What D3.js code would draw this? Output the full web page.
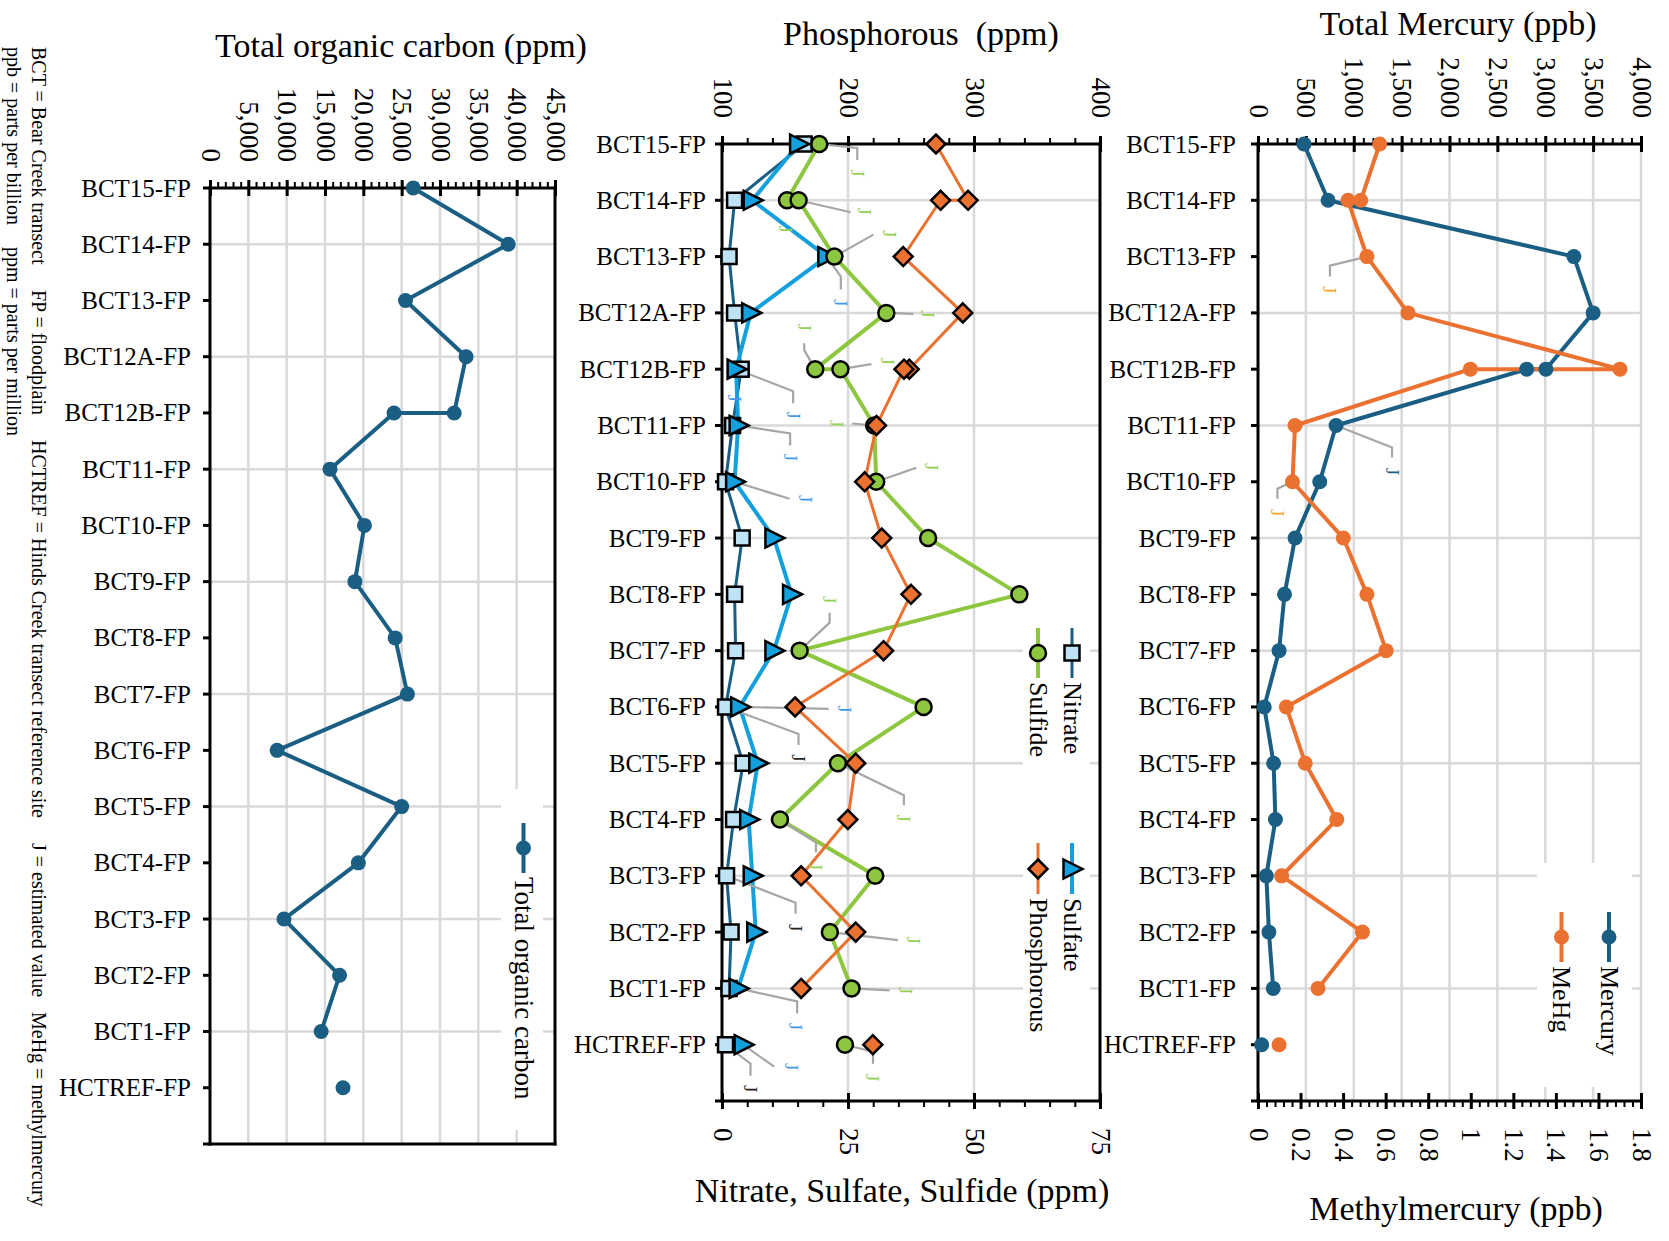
<!DOCTYPE html>
<html>
<head>
<meta charset="utf-8">
<script src="https://cdn.jsdelivr.net/npm/d3@7"></script>
<style>
  html, body { margin: 0; padding: 0; background: #fff; }
  svg { display: block; }
  text { font-family: "Liberation Serif", "Times New Roman", serif; fill: #000; }
</style>
</head>
<body>
<svg id="chart" width="1669" height="1241"></svg>
<script>
// ---------- data ----------
const sites = ["BCT15-FP", "BCT14-FP", "BCT13-FP", "BCT12A-FP", "BCT12B-FP", "BCT11-FP",
  "BCT10-FP", "BCT9-FP", "BCT8-FP", "BCT7-FP", "BCT6-FP", "BCT5-FP", "BCT4-FP",
  "BCT3-FP", "BCT2-FP", "BCT1-FP", "HCTREF-FP"];

// sites with two samples hold an array of both results
const tocValues = [26500, 38900, 25500, 33400, [31850, 24000], 15650, 20150, 18900,
  24150, 25750, 8750, 25000, 19350, 9650, 16900, 14500, 17350];
const nitrateValues = [16.3, 2.5, 1.4, 2.5, 3.8, 2.1, 0.7, 4.0, 2.5, 2.7, 0.7, 4.2,
  2.3, 0.9, 1.8, 1.4, 0.7];
const sulfateValues = [15.2, 6.0, 20.8, 5.7, 2.8, 3.2, 2.5, 10.3, 13.8, 10.3, 3.5, 7.1,
  5.3, 6.0, 6.7, 3.2, 4.2];
const sulfideValues = [19.3, [12.9, 15.2], 22.3, 32.6, [18.5, 23.5], 30.2, 30.6, 40.9,
  59.0, 15.4, 40.0, 23.0, 11.5, 30.4, 21.4, 25.7, 24.4];
const phosphorusValues = [269.8, [295.3, 273.5], 243.8, 291.1, [248.6, 244.4], 222.6,
  213.2, 226.8, 250.0, 228.2, 158.0, 206.1, 199.9, 162.8, 206.1, 162.8, 219.7];
const mercuryValues = [480, 732, 3299, 3500, [3007, 2806], 815, 645, 387, 277, 220, 65,
  163, 182, 87, 114, 159, 38];
const mehgValues = [0.572, [0.483, 0.423], 0.512, 0.705, [1.701, 0.998], 0.174, 0.162,
  0.401, 0.512, 0.602, 0.133, 0.222, 0.370, 0.111, 0.491, 0.282, 0.099];

const tocTicks = [0, 5000, 10000, 15000, 20000, 25000, 30000, 35000, 40000, 45000];
const phosphorusTicks = [100, 200, 300, 400];
const nssTicks = [0, 25, 50, 75];
const mercuryTicks = [0, 500, 1000, 1500, 2000, 2500, 3000, 3500, 4000];
const mehgTicks = [0, 0.2, 0.4, 0.6, 0.8, 1, 1.2, 1.4, 1.6, 1.8];

// estimated-value ("J") callouts: series, site index, sample index,
// leader elbow offsets and label offset from the marker (px)
const callouts = [
  { s: "sulfide", i: 0, k: 0, pts: [[38, 4], [38, 16]], lab: [38, 29] },
  { s: "sulfide", i: 1, k: 1, pts: [[52, 12]], lab: [66, 11] },
  { s: "sulfide", i: 1, k: 0, pts: [], lab: [-2, 29] },
  { s: "sulfide", i: 2, k: 0, pts: [[39, -22]], lab: [55, -23] },
  { s: "sulfate", i: 2, k: 0, pts: [[14, 20], [14, 33]], lab: [14, 46] },
  { s: "sulfide", i: 3, k: 0, pts: [[27, 1]], lab: [41, 1] },
  { s: "sulfide", i: 4, k: 0, pts: [[-11, -19], [-11, -26]], lab: [-11, -42] },
  { s: "sulfide", i: 4, k: 1, pts: [[31, -5]], lab: [47, -8] },
  { s: "sulfate", i: 4, k: 0, pts: [[57, 22], [57, 34]], lab: [57, 46] },
  { s: "sulfate", i: 4, k: 0, pts: [], lab: [-2, 29] },
  { s: "sulfide", i: 5, k: 0, pts: [[-22, -2]], lab: [-38, -2] },
  { s: "sulfate", i: 5, k: 0, pts: [[52, 8], [52, 20]], lab: [52, 32] },
  { s: "sulfide", i: 6, k: 0, pts: [[40, -14]], lab: [55, -15] },
  { s: "sulfate", i: 6, k: 0, pts: [[55, 17]], lab: [71, 17] },
  { s: "sulfide", i: 9, k: 0, pts: [[30, -28], [30, -38]], lab: [30, -51] },
  { s: "sulfate", i: 10, k: 0, pts: [[89, 2]], lab: [105, 2] },
  { s: "nitrate", i: 10, k: 0, pts: [[73, 27], [73, 38]], lab: [73, 51] },
  { s: "sulfide", i: 11, k: 0, pts: [[66, 32], [66, 42]], lab: [66, 55] },
  { s: "sulfide", i: 12, k: 0, pts: [[36, 23], [36, 33]], lab: [36, 47] },
  { s: "nitrate", i: 13, k: 0, pts: [[69, 27], [69, 38]], lab: [69, 52] },
  { s: "sulfide", i: 14, k: 0, pts: [[68, 8]], lab: [84, 8] },
  { s: "sulfide", i: 15, k: 0, pts: [[38, 2]], lab: [54, 2] },
  { s: "sulfate", i: 15, k: 0, pts: [[59, 13], [59, 25]], lab: [57, 38] },
  { s: "sulfide", i: 16, k: 0, pts: [[28, 7], [28, 19]], lab: [28, 33] },
  { s: "sulfate", i: 16, k: 0, pts: [[31, 22]], lab: [48, 22] },
  { s: "nitrate", i: 16, k: 0, pts: [[25, 19], [25, 31]], lab: [25, 44] },
  { s: "mehg", i: 2, k: 0, pts: [[-37, 9], [-37, 20]], lab: [-37, 33] },
  { s: "mercury", i: 5, k: 0, pts: [[56, 22], [56, 32]], lab: [56, 46] },
  { s: "mehg", i: 6, k: 0, pts: [[-15, 7], [-15, 17]], lab: [-15, 31] }
];

// ---------- styling ----------
const C = {
  navy: "#1a5e83", sky: "#13a0dc", skyFill: "#bfe3f5", green: "#8dc63f",
  orange: "#ea7130", grid: "#d9d9d9", leader: "#a6a6a6"
};
const jColor = { sulfide: "#92d050", sulfate: "#3f9ae6", nitrate: "#222222",
  mehg: "#f5a524", mercury: "#1a5e83" };

const svg = d3.select("#chart");
const nCat = sites.length + 1; // one empty slot below the last site

// panel frames
const P = {
  toc: { x0: 210, x1: 555, y0: 188, y1: 1144 },
  mid: { x0: 722, x1: 1100, y0: 144, y1: 1101 },
  hg:  { x0: 1258, x1: 1641, y0: 144, y1: 1101 }
};

const xToc = d3.scaleLinear([0, 45000], [P.toc.x0, P.toc.x1]);
const xPhos = d3.scaleLinear([100, 400], [P.mid.x0, P.mid.x1]);
const xNss = d3.scaleLinear([0, 75], [P.mid.x0, P.mid.x1]);
const xHg = d3.scaleLinear([0, 4000], [P.hg.x0, P.hg.x1]);
const xMe = d3.scaleLinear([0, 1.8], [P.hg.x0, P.hg.x1]);
const yOf = p => d3.scaleLinear([0, nCat - 1], [p.y0, p.y1]);
const yToc = yOf(P.toc), yMid = yOf(P.mid), yHg = yOf(P.hg);

const layers = {
  grid: svg.append("g"),
  legendBg: svg.append("g"),
  axes: svg.append("g"),
  lines: svg.append("g"),
  leaders: svg.append("g"),
  marks: svg.append("g"),
  text: svg.append("g")
};

// ---------- grid ----------
function gridV(p, scale, vals) {
  layers.grid.selectAll(null).data(vals).join("line")
    .attr("x1", d => scale(d)).attr("x2", d => scale(d))
    .attr("y1", p.y0).attr("y2", p.y1)
    .attr("stroke", C.grid).attr("stroke-width", 2.5);
}
function gridH(p, y) {
  const rows = d3.range(1, nCat - 1, 2);
  layers.grid.selectAll(null).data(rows).join("line")
    .attr("x1", p.x0).attr("x2", p.x1)
    .attr("y1", d => y(d)).attr("y2", d => y(d))
    .attr("stroke", C.grid).attr("stroke-width", 2.5);
}
gridV(P.toc, xToc, tocTicks.slice(1, -1));
gridH(P.toc, yToc);
gridV(P.mid, xPhos, [200, 300]);
gridH(P.mid, yMid);
gridV(P.hg, xHg, mercuryTicks.slice(1));
gridH(P.hg, yHg);

// legend backgrounds hide the grid behind the keys
[[501, 789, 42, 341], [1023, 605, 67, 435], [1537, 863, 95, 224]].forEach(([x, y, w, h]) =>
  layers.legendBg.append("rect").attr("x", x).attr("y", y).attr("width", w).attr("height", h)
    .attr("fill", "#fff"));

// ---------- axes ----------
function valueAxis(scale, orient, y, majors, minorStep, fmt) {
  const g = layers.axes.append("g").attr("transform", `translate(0,${y})`);
  const [d0, d1] = scale.domain();
  const minors = d3.range(0, Math.round((d1 - d0) / minorStep) + 1).map(j => d0 + j * minorStep);
  const mk = orient === "top" ? d3.axisTop : d3.axisBottom;
  g.append("g").call(mk(scale).tickValues(minors).tickSize(6).tickFormat(""))
    .call(s => s.select(".domain").remove())
    .selectAll("line").attr("stroke", "#000").attr("stroke-width", 2);
  const major = g.append("g").call(mk(scale).tickValues(majors).tickSize(8).tickFormat(fmt))
    .attr("font-family", null).attr("font-size", 27);
  major.select(".domain").remove();
  major.selectAll("line").attr("y1", -8).attr("y2", 8).attr("stroke", "#000").attr("stroke-width", 3);
  major.selectAll("text")
    .attr("x", 0).attr("y", 0).attr("dy", null)
    .attr("transform", orient === "top" ? "translate(0,-26) rotate(90)" : "translate(0,27) rotate(90)")
    .attr("text-anchor", orient === "top" ? "end" : "start")
    .attr("dominant-baseline", "central")
    .attr("fill", "#000");
}
function catAxis(p, y, labelGap) {
  const g = layers.axes.append("g");
  g.selectAll(null).data(d3.range(nCat)).join("line")
    .attr("x1", p.x0 - 7).attr("x2", p.x0)
    .attr("y1", d => y(d)).attr("y2", d => y(d))
    .attr("stroke", "#000").attr("stroke-width", 3);
  layers.text.selectAll(null).data(sites).join("text")
    .attr("x", p.x0 - labelGap).attr("y", (d, i) => y(i))
    .attr("text-anchor", "end").attr("dominant-baseline", "central")
    .attr("font-size", 25).text(d => d);
}
function frameLine(x1, y1, x2, y2, color) {
  layers.axes.append("line").attr("x1", x1).attr("y1", y1).attr("x2", x2).attr("y2", y2)
    .attr("stroke", color || "#000").attr("stroke-width", 3).attr("stroke-linecap", "square");
}

const comma = d3.format(",");
// TOC panel
valueAxis(xToc, "top", P.toc.y0, tocTicks, 1000, comma);
catAxis(P.toc, yToc, 19);
frameLine(P.toc.x0, P.toc.y0, P.toc.x1, P.toc.y0);
frameLine(P.toc.x0, P.toc.y0, P.toc.x0, P.toc.y1);
frameLine(P.toc.x1, P.toc.y0, P.toc.x1, P.toc.y1);
frameLine(P.toc.x0, P.toc.y1, P.toc.x1, P.toc.y1);
// nutrient panel
valueAxis(xPhos, "top", P.mid.y0, phosphorusTicks, 20, d => d);
valueAxis(xNss, "bottom", P.mid.y1, nssTicks, 5, d => d);
catAxis(P.mid, yMid, 16);
frameLine(P.mid.x0, P.mid.y0, P.mid.x1, P.mid.y0);
frameLine(P.mid.x0, P.mid.y1, P.mid.x1, P.mid.y1);
frameLine(P.mid.x0, P.mid.y0, P.mid.x0, P.mid.y1);
frameLine(P.mid.x1, P.mid.y0, P.mid.x1, P.mid.y1);
// mercury panel
valueAxis(xHg, "top", P.hg.y0, mercuryTicks, 100, comma);
valueAxis(xMe, "bottom", P.hg.y1, mehgTicks, 0.04, d => String(d));
catAxis(P.hg, yHg, 22);
frameLine(P.hg.x0, P.hg.y0, P.hg.x1, P.hg.y0);
frameLine(P.hg.x0, P.hg.y1, P.hg.x1, P.hg.y1);
frameLine(P.hg.x0, P.hg.y0, P.hg.x0, P.hg.y1);

// ---------- series ----------
function expand(values) {
  const out = [];
  values.forEach((v, i) => (Array.isArray(v) ? v : [v]).forEach((val, k) => out.push({ i, k, v: val })));
  return out;
}
const shapes = {
  circle: r => `M${r},0A${r},${r} 0 1,1 ${-r},0A${r},${r} 0 1,1 ${r},0Z`,
  square: s => `M${-s},${-s}H${s}V${s}H${-s}Z`,
  triangle: () => "M-8.5,-9.5L10.5,0L-8.5,9.5Z",
  diamond: s => `M0,${-s}L${s},0L0,${s}L${-s},0Z`
};
const registry = {};
function series(name, values, x, y, opt) {
  const pts = expand(values);
  registry[name] = { pts, x, y };
  const run = pts.filter(p => p.i < sites.length - 1); // reference site stands alone
  layers.lines.append("path")
    .datum(run)
    .attr("d", d3.line().x(p => x(p.v)).y(p => y(p.i)))
    .attr("fill", "none").attr("stroke", opt.line).attr("stroke-width", opt.lw)
    .attr("stroke-linejoin", "round");
  layers.marks.selectAll(null).data(pts).join("path")
    .attr("transform", p => `translate(${x(p.v)},${y(p.i)})`)
    .attr("d", opt.shape)
    .attr("fill", opt.fill).attr("stroke", opt.stroke || "none").attr("stroke-width", opt.sw || 0);
}

series("toc", tocValues, xToc, yToc, { line: C.navy, lw: 4, shape: shapes.circle(7.5), fill: C.navy });
series("nitrate", nitrateValues, xNss, yMid, { line: C.navy, lw: 3, shape: shapes.square(7.5), fill: C.skyFill, stroke: "#000", sw: 2.5 });
series("sulfate", sulfateValues, xNss, yMid, { line: C.sky, lw: 4, shape: shapes.triangle(), fill: C.sky, stroke: "#000", sw: 2.5 });
series("sulfide", sulfideValues, xNss, yMid, { line: C.green, lw: 4, shape: shapes.circle(8), fill: C.green, stroke: "#000", sw: 2.5 });
series("phosphorus", phosphorusValues, xPhos, yMid, { line: C.orange, lw: 3, shape: shapes.diamond(9.5), fill: C.orange, stroke: "#000", sw: 2.5 });
series("mercury", mercuryValues, xHg, yHg, { line: C.navy, lw: 4, shape: shapes.circle(7.5), fill: C.navy });
series("mehg", mehgValues, xMe, yHg, { line: C.orange, lw: 4, shape: shapes.circle(7.5), fill: C.orange });

// ---------- J callouts ----------
callouts.forEach(c => {
  const r = registry[c.s];
  const p = r.pts.find(q => q.i === c.i && q.k === c.k);
  const px = r.x(p.v), py = r.y(p.i);
  if (c.pts.length) {
    const d = [[0, 0]].concat(c.pts).map(([dx, dy]) => [px + dx, py + dy]);
    layers.leaders.append("path").attr("d", d3.line()(d))
      .attr("fill", "none").attr("stroke", C.leader).attr("stroke-width", 2.2);
  }
  layers.text.append("text")
    .attr("transform", `translate(${px + c.lab[0]},${py + c.lab[1]}) rotate(90)`)
    .attr("text-anchor", "middle").attr("dominant-baseline", "central")
    .attr("font-size", 19).style("fill", jColor[c.s]).text("J");
});

// ---------- legends ----------
function legendItem(x, yLine0, yLine1, yMark, color, lw, shape, fill, stroke, sw, label, fs) {
  layers.marks.append("line").attr("x1", x).attr("x2", x).attr("y1", yLine0).attr("y2", yLine1)
    .attr("stroke", color).attr("stroke-width", lw);
  layers.marks.append("path").attr("transform", `translate(${x},${yMark})`).attr("d", shape)
    .attr("fill", fill).attr("stroke", stroke || "none").attr("stroke-width", sw || 0);
  layers.text.append("text").attr("transform", `translate(${x},${yLine1 + 4}) rotate(90)`)
    .attr("dominant-baseline", "central").attr("font-size", fs).text(label);
}
legendItem(523.5, 823, 873, 848, C.navy, 4, shapes.circle(7.5), C.navy, null, 0, "Total organic carbon", 27);
legendItem(1072, 628, 678, 653, C.navy, 3, shapes.square(7.5), C.skyFill, "#000", 2.5, "Nitrate", 26);
legendItem(1038, 628, 678, 653, C.green, 4, shapes.circle(8), C.green, "#000", 2.5, "Sulfide", 26);
legendItem(1072, 843, 894, 869, C.sky, 4, shapes.triangle(), C.sky, "#000", 2.5, "Sulfate", 26);
legendItem(1038, 843, 894, 869, C.orange, 3, shapes.diamond(9.5), C.orange, "#000", 2.5, "Phosphorous", 26);
legendItem(1609, 912, 962, 937, C.navy, 4, shapes.circle(7.5), C.navy, null, 0, "Mercury", 26);
legendItem(1561.5, 912, 962, 937, C.orange, 4, shapes.circle(7.5), C.orange, null, 0, "MeHg", 26);

// ---------- titles ----------
const titles = [
  ["Total organic carbon (ppm)", 401, 57],
  ["Phosphorous\u00a0 (ppm)", 921, 45],
  ["Total Mercury (ppb)", 1458, 35],
  ["Nitrate, Sulfate, Sulfide (ppm)", 902, 1202],
  ["Methylmercury (ppb)", 1456, 1220]
];
titles.forEach(([t, x, y]) => layers.text.append("text").attr("x", x).attr("y", y)
  .attr("text-anchor", "middle").attr("font-size", 34).text(t));

// ---------- abbreviations note ----------
const notes = [
  ["BCT = Bear Creek transect", 39, 47],
  ["FP = floodplain", 39, 290],
  ["HCTREF = Hinds Creek transect reference site", 39, 440],
  ["J = estimated value", 39, 843],
  ["MeHg = methylmercury", 39, 1012],
  ["ppb = parts per billion", 14, 47],
  ["ppm = parts per million", 14, 247]
];
notes.forEach(([t, x, y]) => layers.text.append("text")
  .attr("transform", `translate(${x},${y}) rotate(90)`)
  .attr("dominant-baseline", "central").attr("font-size", 20).text(t));
</script>
</body>
</html>
